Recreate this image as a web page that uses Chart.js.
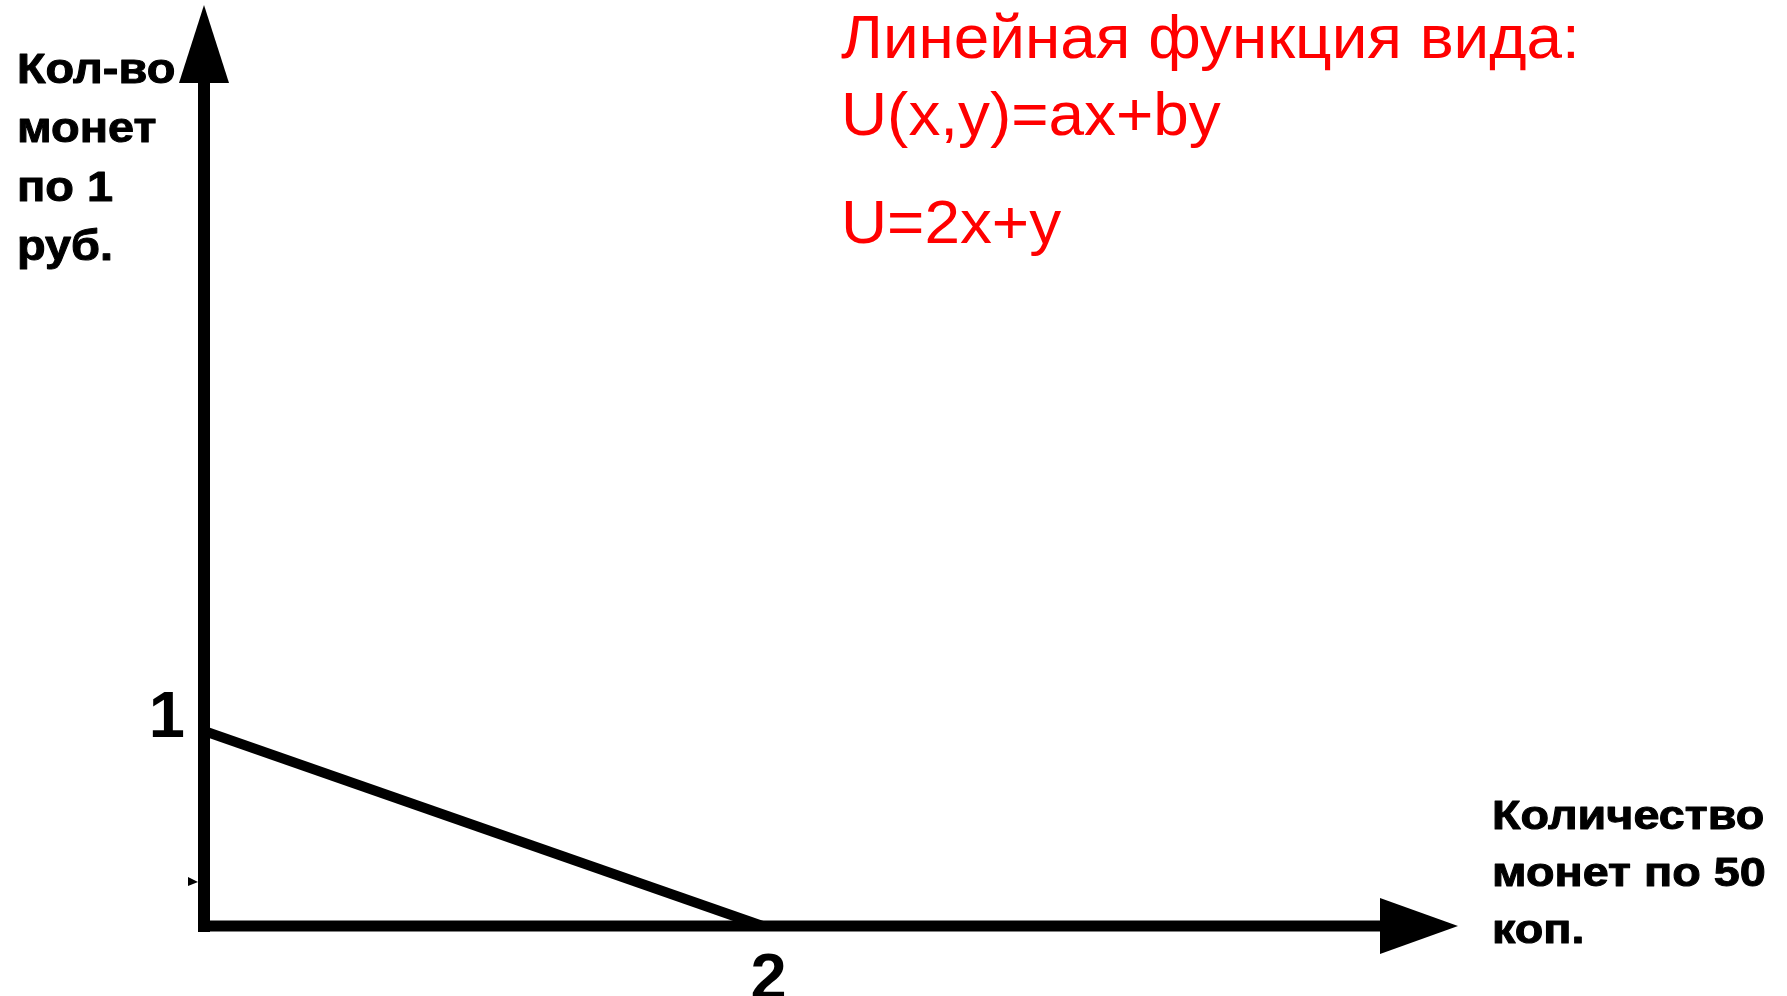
<!DOCTYPE html>
<html lang="ru">
<head>
<meta charset="utf-8">
<title>Линейная функция</title>
<script src="https://cdn.jsdelivr.net/npm/chart.js@4.4.1/dist/chart.umd.min.js"></script>
<style>
  html, body { margin: 0; padding: 0; background: #fff; }
  #wrap { width: 1787px; height: 996px; position: relative; }
</style>
</head>
<body>
<div id="wrap"><canvas id="chart"></canvas></div>
<script>
// budget line U=2x+y : one 1-rub coin or two 50-kop coins
const budgetX = [0, 2];
const budgetY = [1, 0];
const xTicks = [2];
const yTicks = [1];
const xMax = 4.49;
const yMax = 4.72;

const titleLines = ['Линейная функция вида:', 'U(x,y)=ax+by', 'U=2x+y'];
const yAxisLines = ['Кол-во', 'монет', 'по 1', 'руб.'];
const xAxisLines = ['Количество', 'монет по 50', 'коп.'];

const FONT = '"Liberation Sans", Arial, sans-serif';

// axes with arrow heads
const axisArrows = {
  id: 'axisArrows',
  afterDatasetsDraw(chart) {
    const ctx = chart.ctx;
    const xs = chart.scales.x, ys = chart.scales.y;
    const x0 = xs.getPixelForValue(0);
    const y0 = ys.getPixelForValue(0);
    const top = ys.getPixelForValue(yMax);
    const right = xs.getPixelForValue(xMax);
    ctx.save();
    ctx.fillStyle = '#000';
    ctx.strokeStyle = '#000';
    ctx.lineCap = 'butt';
    // vertical
    ctx.lineWidth = 12;
    ctx.beginPath();
    ctx.moveTo(x0, y0 + 6);
    ctx.lineTo(x0, top + 76);
    ctx.stroke();
    ctx.beginPath();
    ctx.moveTo(x0, top);
    ctx.lineTo(x0 - 25, top + 78);
    ctx.lineTo(x0 + 25, top + 78);
    ctx.closePath();
    ctx.fill();
    // horizontal
    ctx.lineWidth = 11;
    ctx.beginPath();
    ctx.moveTo(x0 - 6, y0);
    ctx.lineTo(right - 76, y0);
    ctx.stroke();
    ctx.beginPath();
    ctx.moveTo(right, y0);
    ctx.lineTo(right - 78, y0 - 28);
    ctx.lineTo(right - 78, y0 + 28);
    ctx.closePath();
    ctx.fill();
    // little stray arrow tip left on the y axis
    const ys2 = y0 - 44;
    ctx.beginPath();
    ctx.moveTo(x0 - 6, ys2);
    ctx.lineTo(x0 - 16, ys2 - 5);
    ctx.lineTo(x0 - 16, ys2 + 4);
    ctx.closePath();
    ctx.fill();
    ctx.restore();
  }
};

// slide text is a little wider and heavier than plain Arial
function wideText(ctx, text, x, y, sx, weight) {
  ctx.save();
  ctx.translate(x, y);
  ctx.scale(sx, 1);
  ctx.fillText(text, 0, 0);
  if (weight) {
    ctx.lineWidth = weight;
    ctx.lineJoin = 'round';
    ctx.strokeText(text, 0, 0);
  }
  ctx.restore();
}

const slideText = {
  id: 'slideText',
  afterDraw(chart) {
    const ctx = chart.ctx;
    ctx.save();
    ctx.textAlign = 'left';
    ctx.textBaseline = 'alphabetic';
    ctx.fillStyle = '#ff0000';
    ctx.font = '62px ' + FONT;
    [58, 135, 243].forEach((b, i) => wideText(ctx, titleLines[i], 841, b, 1.03, 0));
    ctx.fillStyle = '#000';
    ctx.strokeStyle = '#000';
    ctx.font = 'bold 43px ' + FONT;
    [83, 142, 201, 260].forEach((b, i) => wideText(ctx, yAxisLines[i], 17, b, 1.09, 1));
    ctx.font = 'bold 41px ' + FONT;
    [829, 886, 943].forEach((b, i) => wideText(ctx, xAxisLines[i], 1492, b, 1.14, 1));
    ctx.restore();
  }
};

new Chart(document.getElementById('chart'), {
  type: 'line',
  data: {
    datasets: [{
      data: budgetX.map((x, i) => ({ x: x, y: budgetY[i] })),
      borderColor: '#000',
      borderWidth: 10,
      pointRadius: 0,
      fill: false,
      tension: 0
    }]
  },
  options: {
    responsive: true,
    maintainAspectRatio: false,
    animation: false,
    layout: { autoPadding: false, padding: { left: 144, right: 329, top: 5, bottom: 0 } },
    plugins: { legend: { display: false }, tooltip: { enabled: false }, title: { display: false } },
    scales: {
      x: {
        type: 'linear',
        min: 0,
        max: xMax,
        grid: { display: false },
        border: { display: false },
        afterBuildTicks: s => { s.ticks = xTicks.map(v => ({ value: v })); },
        afterFit: s => { s.height = 70; s.paddingLeft = 0; s.paddingRight = 0; },
        ticks: { color: '#000', padding: 8, labelOffset: 6, font: { family: FONT, size: 65, weight: 'bold' } }
      },
      y: {
        type: 'linear',
        min: 0,
        max: yMax,
        grid: { display: false },
        border: { display: false },
        afterBuildTicks: s => { s.ticks = yTicks.map(v => ({ value: v })); },
        afterFit: s => { s.width = 60; s.paddingTop = 0; s.paddingBottom = 0; },
        ticks: { color: '#000', padding: 11, labelOffset: -12, font: { family: FONT, size: 65, weight: 'bold' } }
      }
    }
  },
  plugins: [axisArrows, slideText]
});
</script>
</body>
</html>
